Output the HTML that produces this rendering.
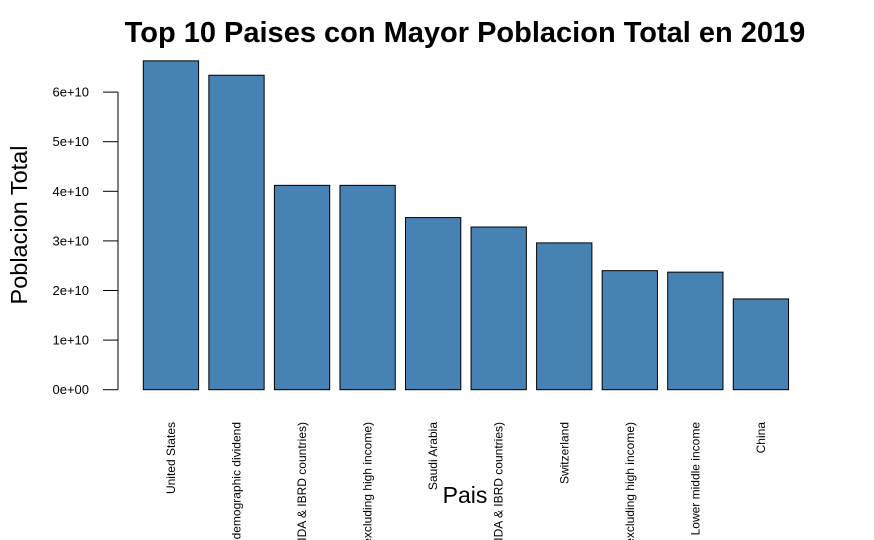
<!DOCTYPE html>
<html><head><meta charset="utf-8"><style>html,body{margin:0;background:#fff;width:874px;height:540px;overflow:hidden}svg{display:block;overflow:hidden;font-family:"Liberation Sans",Arial,sans-serif}</style></head>
<body>
<svg id="chart" width="874" height="540" viewBox="0 0 874 540">
<text x="465" y="42" text-anchor="middle" font-size="29" font-weight="bold">Top 10 Paises con Mayor Poblacion Total en 2019</text>
<text transform="translate(27,225) rotate(-90)" text-anchor="middle" font-size="23.5">Poblacion Total</text>
<text x="465" y="503" text-anchor="middle" font-size="23">Pais</text>
<g id="yaxis"></g><g id="bars"></g><g id="xlabels"></g>
</svg>
<script>
const categories=["United States","Early-demographic dividend","Latin America & Caribbean (IDA & IBRD countries)","East Asia & Pacific (excluding high income)","Saudi Arabia","Middle East & North Africa (IDA & IBRD countries)","Switzerland","Europe & Central Asia (excluding high income)","Lower middle income","China"];
const values=[6.63e10,6.34e10,4.12e10,4.12e10,3.47e10,3.28e10,2.96e10,2.40e10,2.37e10,1.83e10];
const yTicks=[0,1e10,2e10,3e10,4e10,5e10,6e10];
const yTickLabels=["0e+00","1e+10","2e+10","3e+10","4e+10","5e+10","6e+10"];
const NS="http://www.w3.org/2000/svg";
const y=v=>389.7-v/1e10*49.6;
const x=i=>143.3+i*65.55;
const bw=55.3;
const ya=document.getElementById('yaxis'),bg=document.getElementById('bars'),xl=document.getElementById('xlabels');
function mk(t,a){const e=document.createElementNS(NS,t);for(const k in a)e.setAttribute(k,a[k]);return e;}
let l=mk('line',{x1:118,x2:118,y1:y(yTicks[0]),y2:y(yTicks[yTicks.length-1]),stroke:'#000'});


ya.appendChild(l);
yTicks.forEach((t,i)=>{
 const tk=mk('line',{x1:103,x2:118,y1:y(t),y2:y(t),stroke:'#000'});
 
 
 ya.appendChild(tk);
 const tx=mk('text',{x:89,y:y(t)+4.5,'text-anchor':'end','font-size':13});
 
 
 tx.textContent=yTickLabels[i];ya.appendChild(tx);
});
values.forEach((v,i)=>{
 const r=mk('rect',{x:x(i),y:y(v),width:bw,height:y(0)-y(v),fill:'#4682b4',stroke:'#000','stroke-width':1});
 
 
 bg.appendChild(r);
 const cx=x(i)+bw/2+4;
 const t=mk('text',{transform:`translate(${cx},422) rotate(-90)`,'text-anchor':'end','font-size':12});
 
 
 t.textContent=categories[i];xl.appendChild(t);
});
</script>
</body></html>
